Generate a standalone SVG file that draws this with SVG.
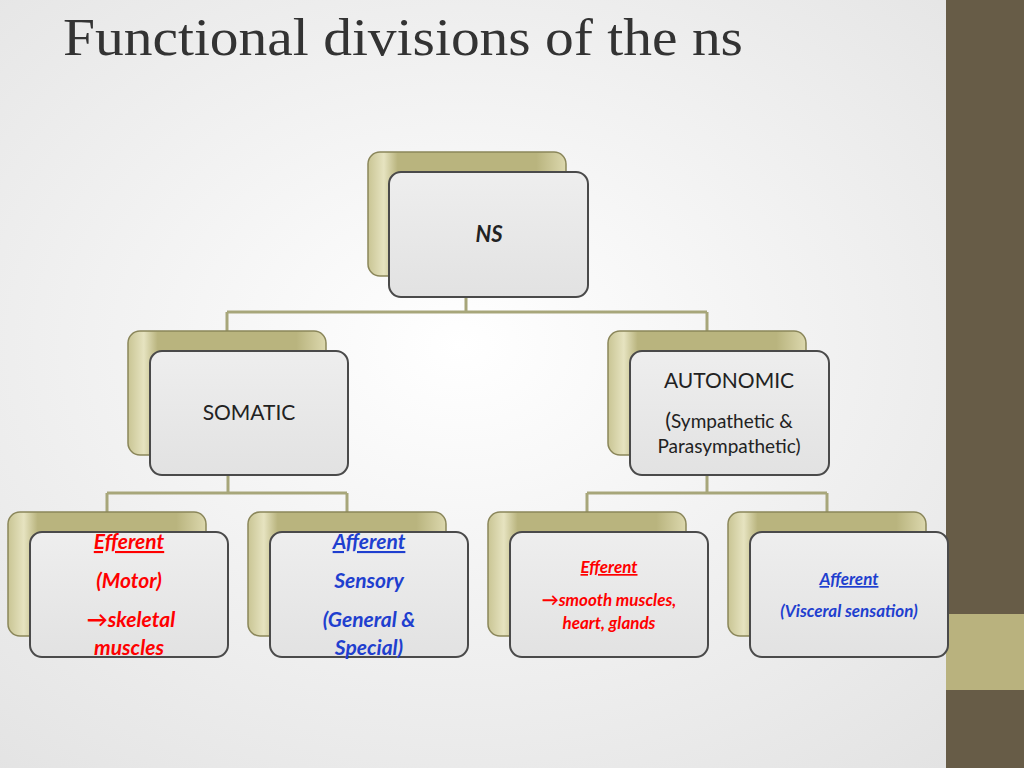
<svg xmlns="http://www.w3.org/2000/svg" width="1024" height="768" viewBox="0 0 1024 768">
<defs>
<radialGradient id="bg" cx="0.45" cy="0.45" r="0.75"><stop offset="0" stop-color="#ffffff"/><stop offset="1" stop-color="#e2e2e2"/></radialGradient>
<linearGradient id="olive" x1="0" y1="0" x2="1" y2="0"><stop offset="0" stop-color="#c9c594"/><stop offset="0.08" stop-color="#e6e3c0"/><stop offset="0.15" stop-color="#b9b47e"/><stop offset="0.85" stop-color="#b9b47e"/><stop offset="1" stop-color="#dcd8ae"/></linearGradient>
<linearGradient id="card" x1="0" y1="0" x2="0" y2="1"><stop offset="0" stop-color="#eeeeee"/><stop offset="1" stop-color="#e2e2e2"/></linearGradient>
</defs>
<style>
.b{fill:url(#olive);stroke:#8a865a;stroke-width:1.5}
.f{fill:url(#card);stroke:#4a4a4a;stroke-width:2}
.c{stroke:#a7a67a;stroke-width:3;fill:none}
text{font-family:Lato,"Open Sans","Liberation Sans",sans-serif;text-anchor:middle}
.r{fill:#ff0000;font-weight:bold;font-style:italic;font-size:21px}
.bl{fill:#1f3fcf;font-weight:bold;font-style:italic;font-size:21px}
.k{fill:#222;font-size:21px}
</style>
<rect width="1024" height="768" fill="url(#bg)"/>
<rect x="946" y="0" width="78" height="768" fill="#675c47"/>
<rect x="946" y="614" width="78" height="76" fill="#b9b27e"/>
<text x="63" y="55" style="font-family:'Liberation Serif',serif;text-anchor:start;font-size:52px;fill:#333" textLength="680" lengthAdjust="spacingAndGlyphs">Functional divisions of the ns</text>
<g id="connectors">
<path class="c" d="M466 297V312M227 312H707M227 312V331M707 312V331"/>
<path class="c" d="M228 475V493M107 493H347M107 493V512M347 493V512"/>
<path class="c" d="M707 475V493M587 493H827M587 493V512M827 493V512"/>
</g>
<g id="ns"><rect class="b" x="368" y="152" width="198" height="124" rx="12"/><rect class="f" x="389" y="172" width="199" height="125" rx="12"/>
<text x="489" y="242" style="font-weight:bold;font-style:italic;font-size:22px;fill:#222">NS</text></g>
<g id="somatic"><rect class="b" x="128" y="331" width="198" height="124" rx="12"/><rect class="f" x="150" y="351" width="198" height="124" rx="12"/>
<text class="k" x="249" y="420">SOMATIC</text></g>
<g id="autonomic"><rect class="b" x="608" y="331" width="198" height="124" rx="12"/><rect class="f" x="630" y="351" width="199" height="124" rx="12"/>
<text class="k" x="729" y="388">AUTONOMIC</text>
<text x="729" y="428" style="font-size:19px;fill:#222"><tspan style="font-size:22px">(</tspan>Sympathetic &amp;</text>
<text x="729" y="453" style="font-size:19px;fill:#222">Parasympathetic)</text></g>
<g id="efferent1"><rect class="b" x="8" y="512" width="198" height="124" rx="12"/><rect class="f" x="30" y="532" width="198" height="125" rx="12"/>
<text class="r" x="129" y="549" text-decoration="underline">Efferent</text>
<text class="r" x="129" y="588">(Motor)</text>
<text class="r" x="131" y="627">→skeletal</text>
<text class="r" x="129" y="655">muscles</text></g>
<g id="afferent1"><rect class="b" x="248" y="512" width="198" height="124" rx="12"/><rect class="f" x="270" y="532" width="198" height="125" rx="12"/>
<text class="bl" x="369" y="549" text-decoration="underline">Afferent</text>
<text class="bl" x="369" y="588">Sensory</text>
<text class="bl" x="369" y="627">(General &amp;</text>
<text class="bl" x="369" y="655">Special)</text></g>
<g id="efferent2"><rect class="b" x="488" y="512" width="198" height="124" rx="12"/><rect class="f" x="510" y="532" width="198" height="125" rx="12"/>
<text class="r" x="609" y="573" style="font-size:17px" text-decoration="underline">Efferent</text>
<text class="r" x="609" y="606" style="font-size:17px">→smooth muscles,</text>
<text class="r" x="609" y="629" style="font-size:17px">heart,  glands</text></g>
<g id="afferent2"><rect class="b" x="728" y="512" width="198" height="124" rx="12"/><rect class="f" x="750" y="532" width="198" height="125" rx="12"/>
<text class="bl" x="849" y="585" style="font-size:17px" text-decoration="underline">Afferent</text>
<text class="bl" x="849" y="617" style="font-size:17px">(Visceral sensation)</text></g>
</svg>
